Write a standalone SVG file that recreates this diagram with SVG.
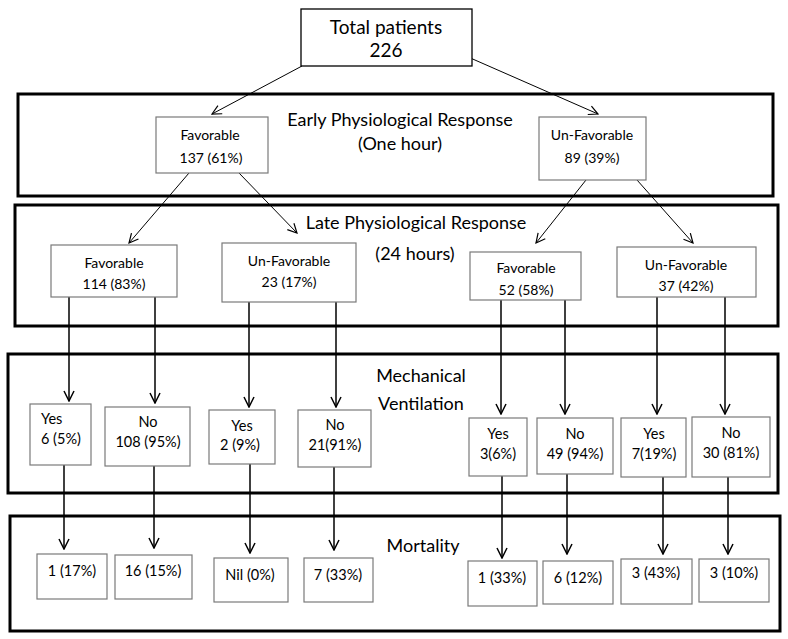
<svg xmlns="http://www.w3.org/2000/svg" width="788" height="639" viewBox="0 0 788 639">
<style>
.band{fill:none;stroke:#000;stroke-width:3}
.box{fill:#fff;stroke:#7a7a7a;stroke-width:1.2}
.top{fill:#fff;stroke:#000;stroke-width:1.3}
text{font-family:Lato,"Open Sans","Liberation Sans",sans-serif;fill:#000}
.t1{font-size:19px;text-anchor:middle}
.bl{font-size:18px;text-anchor:middle}
.s{font-size:14px;text-anchor:middle}
.m{font-size:14.5px;text-anchor:middle}
.ml{font-size:14.5px}
.thin{stroke:#000;stroke-width:1;fill:none}
.vert{stroke:#000;stroke-width:1.5;fill:none}
</style>
<defs>
<marker id="ah" viewBox="0 0 12 12" refX="11" refY="6" markerWidth="11" markerHeight="11" markerUnits="userSpaceOnUse" orient="auto">
<path d="M1,1 L11,6 L1,11" fill="none" stroke="#000" stroke-width="1.3"/>
</marker>
<marker id="ah2" viewBox="0 0 12 12" refX="11" refY="6" markerWidth="12" markerHeight="12" markerUnits="userSpaceOnUse" orient="auto">
<path d="M1,1 L11,6 L1,11" fill="none" stroke="#000" stroke-width="1.5"/>
</marker>
</defs>

<g id="bands">
<rect class="band" x="18" y="94" width="755" height="102"/>
<rect class="band" x="15" y="205" width="763" height="121"/>
<rect class="band" x="8" y="354" width="770" height="139"/>
<rect class="band" x="10" y="516" width="770" height="115"/>
<text class="bl" x="400" y="126">Early Physiological Response</text>
<text class="bl" x="400" y="150">(One hour)</text>
<text class="bl" x="416" y="229">Late Physiological Response</text>
<text class="bl" x="415" y="260">(24 hours)</text>
<text class="bl" x="421" y="382">Mechanical</text>
<text class="bl" x="421" y="410">Ventilation</text>
<text class="bl" x="423" y="552">Mortality</text>
</g>

<g id="connectors">
<line class="thin" x1="302" y1="66" x2="212" y2="114" marker-end="url(#ah)"/>
<line class="thin" x1="443" y1="46" x2="598" y2="114" marker-end="url(#ah)"/>
<line class="thin" x1="189" y1="173" x2="129" y2="243" marker-end="url(#ah)"/>
<line class="thin" x1="239" y1="173" x2="297" y2="233" marker-end="url(#ah)"/>
<line class="thin" x1="586" y1="180" x2="536" y2="243" marker-end="url(#ah)"/>
<line class="thin" x1="637" y1="180" x2="693" y2="243" marker-end="url(#ah)"/>
<line class="vert" x1="69" y1="297" x2="69" y2="401" marker-end="url(#ah2)"/>
<line class="vert" x1="155" y1="297" x2="155" y2="403" marker-end="url(#ah2)"/>
<line class="vert" x1="249" y1="302" x2="249" y2="407" marker-end="url(#ah2)"/>
<line class="vert" x1="336" y1="302" x2="336" y2="407" marker-end="url(#ah2)"/>
<line class="vert" x1="501" y1="300" x2="501" y2="414" marker-end="url(#ah2)"/>
<line class="vert" x1="565" y1="300" x2="565" y2="414" marker-end="url(#ah2)"/>
<line class="vert" x1="657" y1="297" x2="657" y2="414" marker-end="url(#ah2)"/>
<line class="vert" x1="725" y1="297" x2="725" y2="414" marker-end="url(#ah2)"/>
<line class="vert" x1="64" y1="465" x2="64" y2="549" marker-end="url(#ah2)"/>
<line class="vert" x1="154" y1="466" x2="154" y2="548" marker-end="url(#ah2)"/>
<line class="vert" x1="250" y1="464" x2="250" y2="553" marker-end="url(#ah2)"/>
<line class="vert" x1="334" y1="467" x2="334" y2="550" marker-end="url(#ah2)"/>
<line class="vert" x1="502" y1="476" x2="502" y2="558" marker-end="url(#ah2)"/>
<line class="vert" x1="567" y1="474" x2="567" y2="554" marker-end="url(#ah2)"/>
<line class="vert" x1="663" y1="477" x2="663" y2="554" marker-end="url(#ah2)"/>
<line class="vert" x1="728" y1="477" x2="728" y2="554" marker-end="url(#ah2)"/>
</g>

<g id="n-total">
<rect class="top" x="301" y="9" width="171" height="57"/>
<text class="t1" x="386" y="34">Total patients</text>
<text class="t1" x="386" y="57">226</text>
</g>

<g id="n-fav1">
<rect class="box" x="156" y="117" width="112" height="56"/>
<text class="s" x="210" y="140">Favorable</text>
<text class="s" x="211" y="163">137 (61%)</text>
</g>
<g id="n-unfav1">
<rect class="box" x="539" y="117" width="107" height="63"/>
<text class="s" x="592" y="140">Un-Favorable</text>
<text class="s" x="592" y="163">89 (39%)</text>
</g>

<g id="n-fav2a">
<rect class="box" x="51" y="245" width="126" height="52"/>
<text class="s" x="114" y="268">Favorable</text>
<text class="s" x="114" y="289">114 (83%)</text>
</g>
<g id="n-unfav2a">
<rect class="box" x="222" y="243" width="134" height="59"/>
<text class="s" x="289" y="266">Un-Favorable</text>
<text class="s" x="289" y="287">23 (17%)</text>
</g>
<g id="n-fav2b">
<rect class="box" x="470" y="252" width="111" height="48"/>
<text class="s" x="526" y="273">Favorable</text>
<text class="s" x="526" y="295">52 (58%)</text>
</g>
<g id="n-unfav2b">
<rect class="box" x="617" y="247" width="139" height="50"/>
<text class="s" x="686" y="270">Un-Favorable</text>
<text class="s" x="686" y="291">37 (42%)</text>
</g>

<g id="n-mv1">
<rect class="box" x="30" y="404" width="61" height="61"/>
<text class="ml" x="41" y="424">Yes</text>
<text class="ml" x="41" y="444">6 (5%)</text>
</g>
<g id="n-mv2">
<rect class="box" x="105" y="407" width="85" height="59"/>
<text class="m" x="148" y="427">No</text>
<text class="m" x="148" y="447">108 (95%)</text>
</g>
<g id="n-mv3">
<rect class="box" x="209" y="410" width="66" height="54"/>
<text class="m" x="242" y="431">Yes</text>
<text class="m" x="240" y="450">2 (9%)</text>
</g>
<g id="n-mv4">
<rect class="box" x="298" y="410" width="73" height="57"/>
<text class="m" x="335" y="430">No</text>
<text class="m" x="335" y="450">21(91%)</text>
</g>
<g id="n-mv5">
<rect class="box" x="469" y="418" width="58" height="58"/>
<text class="m" x="498" y="439">Yes</text>
<text class="m" x="498" y="459">3(6%)</text>
</g>
<g id="n-mv6">
<rect class="box" x="537" y="418" width="76" height="56"/>
<text class="m" x="575" y="439">No</text>
<text class="m" x="575" y="459">49 (94%)</text>
</g>
<g id="n-mv7">
<rect class="box" x="621" y="418" width="65" height="59"/>
<text class="m" x="654" y="439">Yes</text>
<text class="m" x="654" y="459">7(19%)</text>
</g>
<g id="n-mv8">
<rect class="box" x="692" y="417" width="78" height="60"/>
<text class="m" x="731" y="438">No</text>
<text class="m" x="731" y="458">30 (81%)</text>
</g>

<g id="n-mo1">
<rect class="box" x="37" y="554" width="70" height="45"/>
<text class="m" x="72" y="576">1 (17%)</text>
</g>
<g id="n-mo2">
<rect class="box" x="115" y="555" width="77" height="44"/>
<text class="m" x="153" y="576">16 (15%)</text>
</g>
<g id="n-mo3">
<rect class="box" x="214" y="558" width="74" height="44"/>
<text class="m" x="250" y="580">Nil (0%)</text>
</g>
<g id="n-mo4">
<rect class="box" x="304" y="558" width="69" height="44"/>
<text class="m" x="338" y="580">7 (33%)</text>
</g>
<g id="n-mo5">
<rect class="box" x="468" y="561" width="69" height="45"/>
<text class="m" x="502" y="583">1 (33%)</text>
</g>
<g id="n-mo6">
<rect class="box" x="543" y="561" width="70" height="43"/>
<text class="m" x="578" y="583">6 (12%)</text>
</g>
<g id="n-mo7">
<rect class="box" x="621" y="559" width="71" height="45"/>
<text class="m" x="656" y="578">3 (43%)</text>
</g>
<g id="n-mo8">
<rect class="box" x="699" y="559" width="70" height="43"/>
<text class="m" x="734" y="578">3 (10%)</text>
</g>
</svg>
